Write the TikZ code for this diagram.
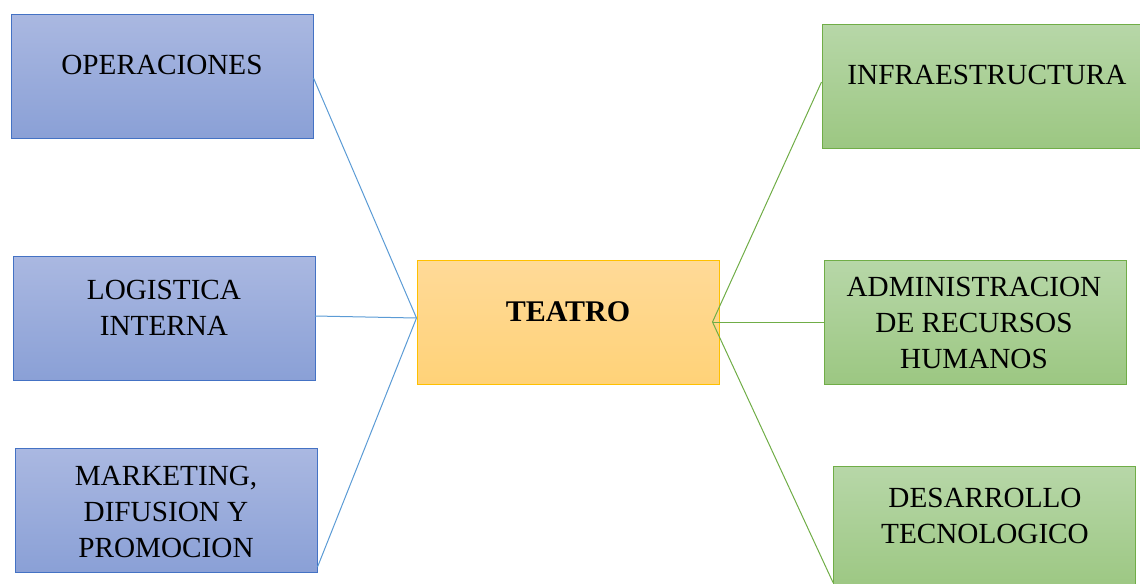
\documentclass[tikz,border=0pt]{standalone}
\usepackage{fontspec}
\setmainfont{Liberation Serif}
\definecolor{btop}{RGB}{170,184,225}
\definecolor{bbot}{RGB}{138,160,214}
\definecolor{bedge}{RGB}{68,114,196}
\definecolor{otop}{RGB}{255,218,152}
\definecolor{obot}{RGB}{255,210,120}
\definecolor{oedge}{RGB}{255,192,0}
\definecolor{gtop}{RGB}{183,215,168}
\definecolor{gbot}{RGB}{156,199,130}
\definecolor{gedge}{RGB}{112,173,71}
\definecolor{bline}{RGB}{91,155,213}
\begin{document}
\begin{tikzpicture}[x=0.75pt,y=-0.75pt,
  box/.style={draw,line width=0.75pt,minimum width={302*0.75pt},minimum height={124*0.75pt},inner sep=0pt},
  bluebox/.style={box,draw=bedge,top color=btop,bottom color=bbot},
  orangebox/.style={box,draw=oedge,top color=otop,bottom color=obot},
  greenbox/.style={box,draw=gedge,top color=gtop,bottom color=gbot},
  txt/.style={font=\fontsize{21.9pt}{27pt}\selectfont,align=center,inner sep=0pt},
  bconn/.style={draw=bline,line width=0.75pt},
  gconn/.style={draw=gedge,line width=0.75pt}]
\useasboundingbox (0,0) rectangle (1140,583);
\begin{scope}
\clip (0,0) rectangle (1140,583);
% boxes
\node[bluebox] (op) at (162,76) {};
\node[bluebox] (lo) at (164,318) {};
\node[bluebox] (mk) at (166,510.5) {};
\node[orangebox] (te) at (568,322) {};
\node[greenbox, minimum width={330*0.75pt}] (in) at (987,86) {};
\node[greenbox] (ad) at (975,322) {};
\node[greenbox] (de) at (984.5,528) {};
% texts
\node[txt] (opt) at (162,65) {OPERACIONES};
\node[txt] (lot) at (164,307.5) {LOGISTICA\\INTERNA};
\node[txt] (mkt) at (166,512) {MARKETING,\\DIFUSION Y\\PROMOCION};
\node[txt,font=\fontsize{22.5pt}{27pt}\selectfont\bfseries] (tet) at (568,312) {TEATRO};
\node[txt] (int) at (987,75) {INFRAESTRUCTURA};
\node[txt] (adt) at (974,323) {ADMINISTRACION\\DE RECURSOS\\HUMANOS};
\node[txt] (det) at (985,516) {DESARROLLO\\TECNOLOGICO};
% connectors
\coordinate (tw) at ([yshift={4*0.75pt}]te.west);
\coordinate (tg) at ([xshift={-7*0.75pt}]te.east);
\path[bconn] ([yshift={-2*0.75pt}]op.east) -- (tw);
\path[bconn] ([xshift={-0.5*0.75pt},yshift={2*0.75pt}]lo.east) -- (tw);
\path[bconn] ([yshift={6*0.75pt}]mk.south east) -- (tw);
\path[gconn] (tg) -- ([yshift={4*0.75pt}]in.west);
\path[gconn] (tg) -- (ad.west);
\path[gconn] (tg) -- ([yshift={8*0.75pt}]de.south west);
\end{scope}
\end{tikzpicture}
\end{document}
